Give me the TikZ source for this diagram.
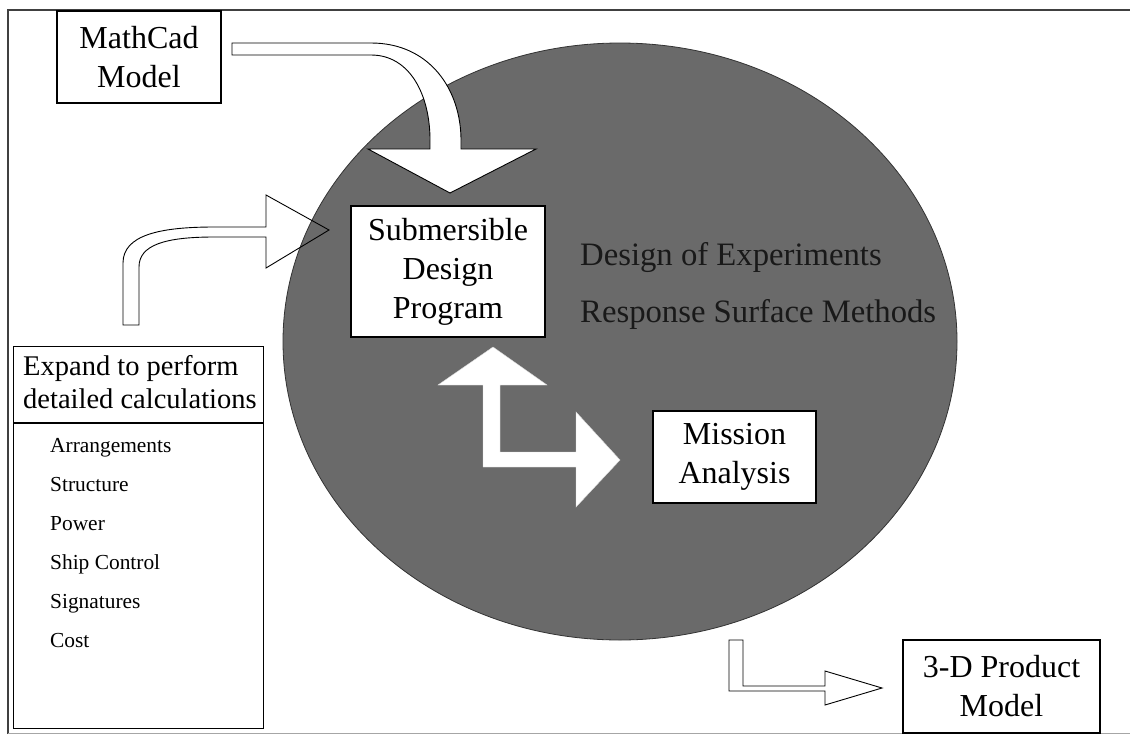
\documentclass[tikz,border=0pt]{standalone}
\usepackage{fontspec}
\usetikzlibrary{shapes.geometric}
\setmainfont{Liberation Serif}
\definecolor{ellgray}{RGB}{106,106,106}
\definecolor{txtdark}{RGB}{25,25,25}
\begin{document}
\begin{tikzpicture}[x=1pt,y=-1pt,
  box/.style={draw=black,line width=1.1pt,fill=white,inner sep=0pt,align=center,
     font=\fontsize{32}{39}\selectfont},
  blockarrow/.style={draw=black,line width=0.9pt,fill=white,line join=miter},
  hollowarrow/.style={draw=black,line width=0.9pt,line join=miter},
  whitearrow/.style={fill=white,draw=white!85!black,line width=0.4pt},
  listitem/.style={anchor=base west,inner sep=0pt,font=\fontsize{21.4}{24}\selectfont},
  headtext/.style={anchor=base west,inner sep=0pt,font=\fontsize{28.5}{33}\selectfont},
  ctext/.style={anchor=base west,inner sep=0pt,text=txtdark,font=\fontsize{32.7}{39}\selectfont}]
\useasboundingbox (0,0) rectangle (1130,734);
\fill[white] (0,0) rectangle (1130,734);

% outer frame
\draw[line width=1.4pt,black!75] (8,734) -- (8,10) -- (1130,10);
\draw[line width=0.6pt,black!35] (8,733) -- (1130,733);

% big ellipse
\node[draw=black!80,line width=0.8pt,fill=ellgray,ellipse,inner sep=0pt,
      minimum width=674,minimum height=597] (ell) at (620,341.5) {};

% left curved hollow arrow
\draw[hollowarrow] (123,325) -- (123,263) .. controls (123,235) and (160,227) .. (214,227)
  -- (266,227) -- (266,195) -- (329,230) -- (266,268) -- (266,237) -- (214,237)
  .. controls (165,237) and (139,245) .. (139,267) -- (139,325) -- cycle;

% MathCad box
\node[box,minimum width=164,minimum height=92] (mc) at (139,57) {MathCad\\Model};

% curved arrow MathCad -> Submersible
\draw[blockarrow] (232,43) -- (371,43) .. controls (430,43) and (461,90) .. (461,140)
  -- (461,149) -- (536,149) -- (450,193) -- (368,149) -- (430,149) -- (430,140)
  .. controls (430,95) and (410,55) .. (371,55) -- (232,55) -- cycle;

% Submersible box
\node[box,minimum width=194,minimum height=131] (sdp) at (448,271.5) {Submersible\\Design\\Program};

% Mission box
\node[box,minimum width=163,minimum height=92] (ma) at (734.5,457) {Mission\\Analysis};

% double arrow between Submersible and Mission
\draw[whitearrow] (493,347) -- (547,385) -- (500,385) -- (500,452) -- (576,452)
  -- (576,412) -- (620,460) -- (576,507) -- (576,467) -- (483,467) -- (483,385)
  -- (438,385) -- cycle;

% methods text
\node[ctext] (doe) at (580,265) {Design of Experiments};
\node[ctext] (rsm) at (580,322) {Response Surface Methods};

% 3-D product model box
\node[box,minimum width=197,minimum height=93] (pm) at (1001.5,686.5) {3-D Product\\Model};

% L-shaped arrow to 3-D product model
\draw[blockarrow] (729,640) -- (743,640) -- (743,686) -- (825,686) -- (825,671)
  -- (882,688) -- (825,705) -- (825,691) -- (729,691) -- cycle;

% Expand box
\node[draw=black,line width=1.1pt,fill=white,inner sep=0pt,anchor=north west,
      minimum width=250,minimum height=382] (exp) at (13,346) {};
\draw[line width=1.1pt] (exp.north west) ++(0,77) coordinate (dl) -- (dl -| exp.east);
\node[headtext] (h1) at (23,375) {Expand to perform};
\node[headtext] (h2) at (23,408) {detailed calculations};
\node[listitem] (l1) at (50,452) {Arrangements};
\node[listitem] (l2) at (50,491) {Structure};
\node[listitem] (l3) at (50,530) {Power};
\node[listitem] (l4) at (50,569) {Ship Control};
\node[listitem] (l5) at (50,608) {Signatures};
\node[listitem] (l6) at (50,647) {Cost};
\end{tikzpicture}
\end{document}
